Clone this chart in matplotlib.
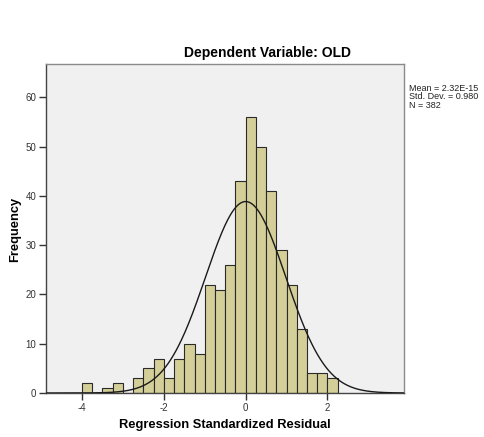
import numpy as np
import matplotlib
matplotlib.use("Agg")
import matplotlib.pyplot as plt

plt.rcParams['font.family'] = ['Liberation Sans', 'DejaVu Sans']
plt.rcParams['axes.unicode_minus'] = False

# histogram of standardized residuals (counts)
bin_width = 0.25
bin_left = np.arange(-4.0, 2.25, bin_width)
counts = [2, 0, 1, 2, 0, 3, 5, 7, 3, 7, 10, 8, 22, 21, 26, 43,
          56, 50, 41, 29, 22, 13, 4, 4, 3]

mean = 2.32e-15
std_dev = 0.980
n_obs = 382

x_ticks = [-4, -2, 0, 2]
y_ticks = [0, 10, 20, 30, 40, 50, 60]

fig = plt.figure(figsize=(4.84, 4.37), dpi=100)
ax = fig.add_axes([46/484, 1-393/437, (404-46)/484, (393-64)/437])
ax.set_facecolor('#f0f0f0')

ax.bar(bin_left, counts, width=bin_width, align='edge',
       color='#d4cf98', edgecolor='#2a2a2a', linewidth=0.8, zorder=2)

xs = np.linspace(-4.9, 3.9, 400)
pdf = np.exp(-0.5*((xs-mean)/std_dev)**2)/(std_dev*np.sqrt(2*np.pi))
ax.plot(xs, n_obs*bin_width*pdf, color='#1a1a1a', linewidth=1.0, zorder=3)

ax.set_xlim(-4.88, 3.87)
ax.set_ylim(0, 66.8)
ax.set_xticks(x_ticks)
ax.set_yticks(y_ticks)
ax.tick_params(direction='out', length=5, width=1, colors='#333333',
               labelsize=7, pad=2)

for s in ['left', 'bottom']:
    ax.spines[s].set_color('#444444')
    ax.spines[s].set_linewidth(1.0)
for s in ['top', 'right']:
    ax.spines[s].set_color('#8a8a8a')
    ax.spines[s].set_linewidth(1.0)

fig.text(225/484, 1-425/437, 'Regression Standardized Residual', fontsize=9.3,
         fontweight='bold', ha='center', va='center')
fig.text(15/484, 1-229/437, 'Frequency', fontsize=9.3, fontweight='bold',
         rotation=90, ha='center', va='center')

fig.text(268/484, 1-53/437, 'Dependent Variable: OLD', fontsize=10,
         fontweight='bold', ha='center', va='center')
fig.text(409/484, 1-84/437,
         'Mean = 2.32E-15\nStd. Dev. = 0.980\nN = 382',
         fontsize=6.5, ha='left', va='top', linespacing=0.92, color='#222222')

fig.savefig('out.png', dpi=100)
